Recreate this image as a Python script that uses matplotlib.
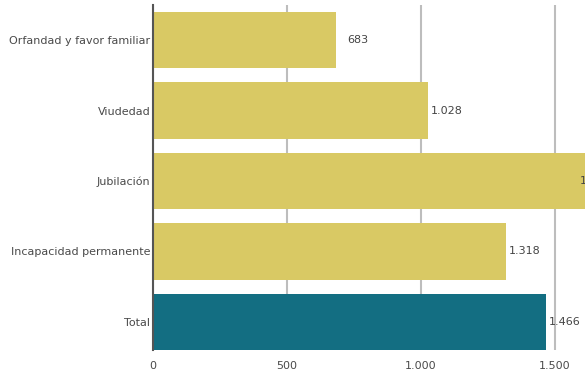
import matplotlib.pyplot as plt

categorias = ['Orfandad y favor familiar', 'Viudedad', 'Jubilación',
              'Incapacidad permanente', 'Total']
valores = [683, 1028, 1620, 1318, 1466]
etiquetas = ['683', '1.028', '1.620', '1.318', '1.466']
colores = ['#D9C964', '#D9C964', '#D9C964', '#D9C964', '#136E82']
xticks = [0, 500, 1000, 1500]
xticklabels = ['0', '500', '1.000', '1.500']

plt.rcParams['font.family'] = ['DejaVu Sans']

fig = plt.figure(figsize=(5.85, 3.76), dpi=100)
ax = fig.add_axes([153/585, 1-350/376, 1-153/585, 345/376])

xmax = 1612
pos = list(range(len(categorias)))
ax.barh(pos, valores, height=0.8, color=colores, zorder=2)

# valores al final de cada barra (el de Jubilación se queda dentro, cortado)
for i, v in enumerate(valores):
    dx = 8 if i == 0 else 2
    x = min(v, xmax - 30)
    ax.annotate(etiquetas[i], (x, i), xytext=(dx, 0), textcoords='offset points',
                va='center', ha='left', fontsize=8, color='#444444',
                annotation_clip=False, zorder=3)

ax.set_xlim(0, xmax)
ax.set_ylim(4.4, -0.5)
ax.set_yticks(pos)
ax.set_yticklabels(categorias)
ax.set_xticks(xticks)
ax.set_xticklabels(xticklabels)
ax.tick_params(axis='both', length=0, labelsize=8, labelcolor='#4a4a4a')
ax.tick_params(axis='y', pad=2)
ax.tick_params(axis='x', pad=8)

ax.grid(axis='x', color='#BDBDBD', linewidth=1.5, zorder=0)
ax.set_axisbelow(True)
for s in ['top', 'right', 'bottom']:
    ax.spines[s].set_visible(False)
ax.spines['left'].set_color('#555555')
ax.spines['left'].set_linewidth(1.5)
ax.spines['left'].set_zorder(4)

fig.savefig('out.png', dpi=100)
